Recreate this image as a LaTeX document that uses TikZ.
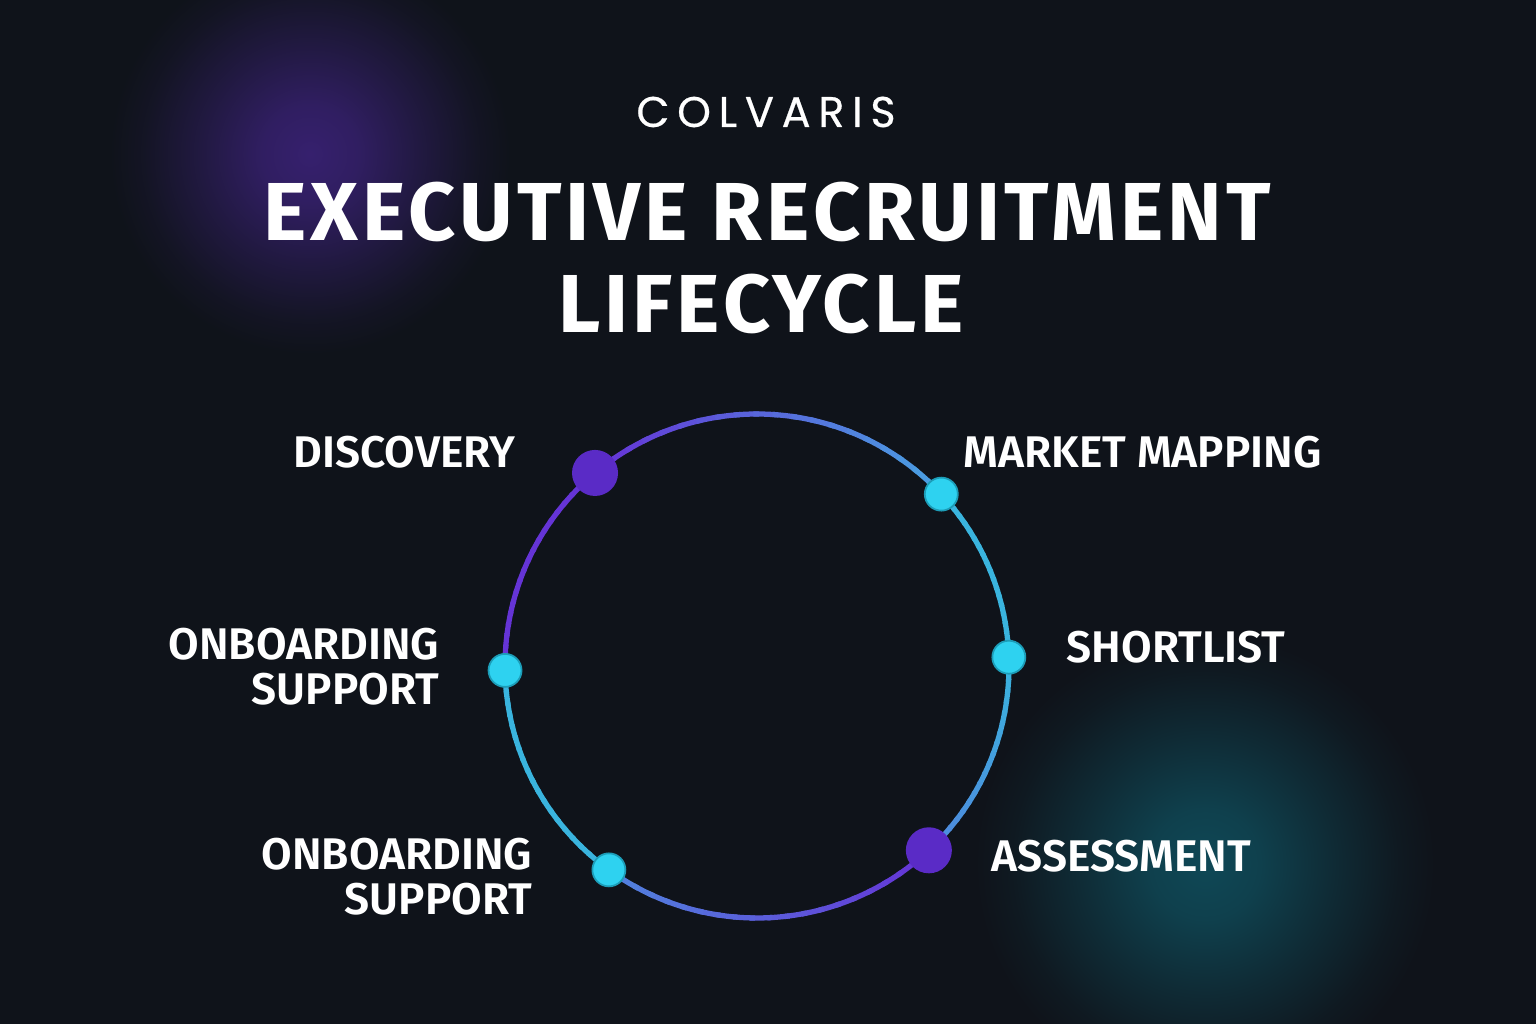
\documentclass[tikz,border=0pt]{standalone}
\usepackage{fontspec}
\setmainfont{Fira Sans}[BoldFont={Fira Sans SemiBold}]
\newfontfamily\headfont[LetterSpace=5]{Fira Sans Bold}
\newfontfamily\brandfont[LetterSpace=18, FakeBold=0.5]{Poppins}
\definecolor{bg}{HTML}{0F131A}
\definecolor{glowpurple}{HTML}{36206E}
\definecolor{glowteal}{HTML}{0F4856}
\definecolor{ringpurple}{HTML}{6534D6}
\definecolor{ringsky}{HTML}{48A6E2}
\definecolor{ringblue}{HTML}{5086DE}
\definecolor{ringcyan}{HTML}{3AB4DE}
\definecolor{dotpurple}{HTML}{5A2BC6}
\definecolor{dotcyan}{HTML}{2ED2F0}
\definecolor{dotrim}{HTML}{1C9DB8}
\pgfdeclareradialshading{purpleglow}{\pgfpoint{0bp}{0bp}}{color(0bp)=(glowpurple); color(6bp)=(glowpurple!85!bg); color(14bp)=(glowpurple!45!bg); color(21bp)=(glowpurple!12!bg); color(25bp)=(bg); color(50bp)=(bg)}
\pgfdeclareradialshading{tealglow}{\pgfpoint{0bp}{0bp}}{color(0bp)=(glowteal); color(6bp)=(glowteal!85!bg); color(14bp)=(glowteal!45!bg); color(21bp)=(glowteal!12!bg); color(25bp)=(bg); color(50bp)=(bg)}
\begin{document}
\begin{tikzpicture}[x=0.01cm, y=0.01cm]
		\tikzset{
			stage/.style={text=white, font=\bfseries\fontsize{12.6}{12.8}\selectfont, inner sep=0pt},
			headline/.style={text=white, font=\headfont\fontsize{23.4}{26}\selectfont, inner sep=0pt},
			ring/.style={line width=1.5pt},
			bigdot/.style={circle, fill=dotpurple, minimum size=0.46cm, inner sep=0pt},
			smalldot/.style={circle, fill=dotcyan, draw=dotrim, line width=0.5pt, minimum size=0.33cm, inner sep=0pt}
		}
		\fill[bg] (0,0) rectangle (1536,1024);
		\useasboundingbox (0,0) rectangle (1536,1024);
		\shade[shading=purpleglow] (310,870) circle (200);
		\shade[shading=tealglow] (1205,160) circle (230);
		\node[text=white, font=\brandfont\fontsize{12.2}{14}\selectfont, inner sep=0pt] (brand) at (766,912) {COLVARIS};
		\node[headline] (title) at (767,812) {EXECUTIVE RECRUITMENT};
		\node[headline] (subtitle) at (761,720) {LIFECYCLE};
		\coordinate (c) at (757,358);
		\def\rad{252}
		\foreach \sa/\ea/\ca/\cb in {130/43/ringpurple/ringsky, 43/2/ringcyan/ringcyan, 2/-47/ringcyan/ringblue, -47/-126/ringpurple/ringblue, -126/-179/ringcyan/ringcyan, -179/-230/ringpurple/ringpurple}
			\foreach \i in {0,...,19}{
				\pgfmathsetmacro\aa{\sa+(\ea-\sa)*\i/20}
				\pgfmathsetmacro\ab{\sa+(\ea-\sa)*(\i+1.3)/20}
				\pgfmathsetmacro\p{100-5*\i}
				\draw[ring, draw=\ca!\p!\cb] ([shift={(\aa:\rad)}]c) arc[start angle=\aa, end angle=\ab, radius=\rad];
			}
		\node[bigdot] (discovery) at ([shift={(130:\rad)}]c) {};
		\node[smalldot] (market) at ([shift={(43:\rad)}]c) {};
		\node[smalldot] (shortlist) at ([shift={(2:\rad)}]c) {};
		\node[bigdot] (assessment) at ([shift={(-47:\rad)}]c) {};
		\node[smalldot] (onboardlow) at ([shift={(234:\rad)}]c) {};
		\node[smalldot] (onboardmid) at ([shift={(181:\rad)}]c) {};
		\node[stage, anchor=east] (discoverytext) at (516,572) {DISCOVERY};
		\node[stage, anchor=west] (markettext) at (963,572) {MARKET MAPPING};
		\node[stage, anchor=west] (shortlisttext) at (1066,377) {SHORTLIST};
		\node[stage, anchor=west] (assessmenttext) at (991,168) {ASSESSMENT};
		\node[stage, anchor=east, align=right] (onboardmidtext) at (440,357) {ONBOARDING\\SUPPORT};
		\node[stage, anchor=east, align=right] (onboardlowtext) at (533,147) {ONBOARDING\\SUPPORT};
	\end{tikzpicture}
\end{document}
